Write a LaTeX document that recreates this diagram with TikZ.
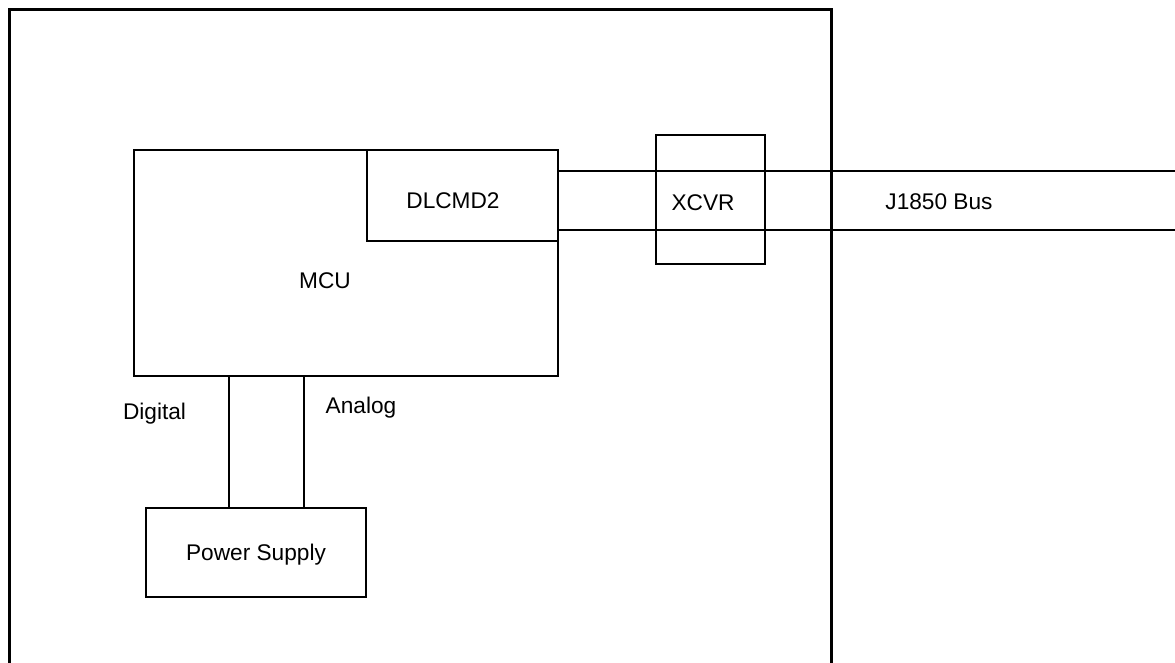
\documentclass[tikz,border=0pt]{standalone}
\usepackage{fontspec}
\setmainfont{Liberation Sans}
\usetikzlibrary{fit}
\begin{document}
\begin{tikzpicture}[x=0.75pt,y=-0.75pt,
  box/.style={draw=black, line width=1.5pt, inner sep=0pt, fill=none},
  lbl/.style={anchor=base, inner sep=0pt, font=\fontsize{17}{20}\selectfont},
  wire/.style={draw=black, line width=1.5pt},
  frame/.style={draw=black, line width=2.25pt}]
\useasboundingbox (0,0) rectangle (1175,662);
\fill[white] (0,0) rectangle (1175,662);
% outer frame (open at the bottom)
\coordinate (fbl) at (9,665);
\coordinate (ftl) at (9,9);
\coordinate (ftr) at (831,9);
\coordinate (fbr) at (831,665);
\draw[frame, line join=miter] (fbl) -- (ftl) -- (ftr) -- (fbr);
% boxes
\node[box, fit={(134,150) (558,376)}] (mcu) {};
\node[box, fit={(367,150) (558,241)}] (dlc) {};
\node[box, fit={(656,135) (765,264)}] (xcvr) {};
\node[box, fit={(229,376) (304,508)}] (link) {};
\node[box, fit={(146,508) (366,597)}] (psu) {};
% bus lines
\coordinate (busA) at (1175,171);
\coordinate (busB) at (1175,230);
\draw[wire] (dlc.east |- busA) -- (busA);
\draw[wire] (dlc.east |- busB) -- (busB);
% labels
\node[lbl] (tdlc) at (453,208) {DLCMD2};
\node[lbl] (txcvr) at (703,210.5) {XCVR};
\node[lbl] (tbus) at (939,209.5) {J1850 Bus};
\node[lbl] (tmcu) at (325,288) {MCU};
\node[lbl] (tdig) at (154.5,419) {Digital};
\node[lbl] (tana) at (361,413) {Analog};
\node[lbl] (tpsu) at (256,560.5) {Power Supply};
\end{tikzpicture}
\end{document}
